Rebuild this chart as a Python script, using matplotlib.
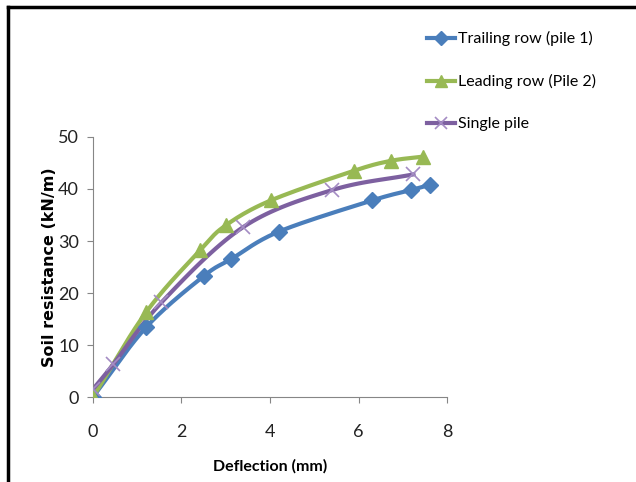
import numpy as np
import matplotlib
matplotlib.use('Agg')
import matplotlib.pyplot as plt
from matplotlib.lines import Line2D

plt.rcParams['font.family'] = ['Lato', 'DejaVu Sans']

# data
trail_x = [0, 1.21, 2.51, 3.12, 4.2, 6.31, 7.19, 7.62]
trail_y = [0, 13.5, 23.3, 26.5, 31.8, 37.8, 39.8, 40.8]
lead_x = [0, 1.21, 2.42, 3.0, 4.02, 5.9, 6.73, 7.45]
lead_y = [0, 16.4, 28.2, 33.0, 37.8, 43.5, 45.4, 46.2]
single_x = [0, 0.46, 1.55, 3.4, 5.41, 7.24]
single_y = [1.5, 6.3, 18.2, 32.7, 39.8, 42.8]

labels = ['Trailing row (pile 1)', 'Leading row (Pile 2)', 'Single pile']
colors = ['#4a7ebb', '#98b954', '#7d60a0']


def smooth(x, y, n=20):
    # catmull-rom curve through the points, like excel's smoothed line
    x = np.asarray(x, float)
    y = np.asarray(y, float)
    px = np.concatenate([[2 * x[0] - x[1]], x, [2 * x[-1] - x[-2]]])
    py = np.concatenate([[2 * y[0] - y[1]], y, [2 * y[-1] - y[-2]]])
    outx, outy = [], []
    t = np.linspace(0, 1, n)
    for i in range(1, len(px) - 2):
        for p, out in ((px, outx), (py, outy)):
            p0, p1, p2, p3 = p[i - 1], p[i], p[i + 1], p[i + 2]
            out.extend(0.5 * (2 * p1 + (-p0 + p2) * t
                              + (2 * p0 - 5 * p1 + 4 * p2 - p3) * t ** 2
                              + (-p0 + 3 * p1 - 3 * p2 + p3) * t ** 3))
    return outx, outy


fig = plt.figure(figsize=(6.36, 4.82), dpi=100)
ax = fig.add_axes([0.146, 0.176, 0.557, 0.540])

series = [(trail_x, trail_y, 'D', 8), (lead_x, lead_y, '^', 10), (single_x, single_y, 'x', 10)]
for (xs, ys, m, ms), c in zip(series, colors):
    sx, sy = smooth(xs, ys)
    ax.plot(sx, sy, color=c, lw=3, zorder=2)
    if m == 'x':
        ax.plot(xs, ys, m, color='#a48cc4', ms=ms, mew=1.2, zorder=3)
    else:
        ax.plot(xs, ys, m, color=c, ms=ms, zorder=3)

ax.set_xlim(0, 8)
ax.set_ylim(0, 50)
ax.set_xticks([0, 2, 4, 6, 8])
ax.set_yticks(range(0, 51, 10))
for s in ['top', 'right']:
    ax.spines[s].set_visible(False)
for s in ['left', 'bottom']:
    ax.spines[s].set_color('#868686')
ax.tick_params(colors='#868686', labelcolor='#222222', labelsize=13, length=4)
ax.tick_params(axis='x', pad=15)
ax.tick_params(axis='y', pad=6)
ax.set_xlabel('Deflection (mm)', fontsize=11.5, fontweight='bold', labelpad=14)
ax.set_ylabel('Soil resistance (kN/m)', fontsize=11.5, fontweight='bold', labelpad=1,
              family='DejaVu Sans')

handles = [
    Line2D([], [], color=colors[0], lw=3, marker='D', ms=7),
    Line2D([], [], color=colors[1], lw=3, marker='^', ms=9),
    Line2D([], [], color=colors[2], lw=3, marker='x', ms=9, mec='#a48cc4', mew=1.2),
]
fig.legend(handles, labels, loc='upper left', bbox_to_anchor=(0.648, 0.965),
           frameon=False, fontsize=11.5, labelspacing=1.75, handlelength=1.8,
           handletextpad=0.2)

# frame edges of the original picture
fig.add_artist(Line2D([0.013, 0.013], [0, 0.986], color='black', lw=2.5, transform=fig.transFigure))
fig.add_artist(Line2D([0.013, 1], [0.986, 0.986], color='black', lw=2.5, transform=fig.transFigure))

fig.savefig('out.png', dpi=100)
